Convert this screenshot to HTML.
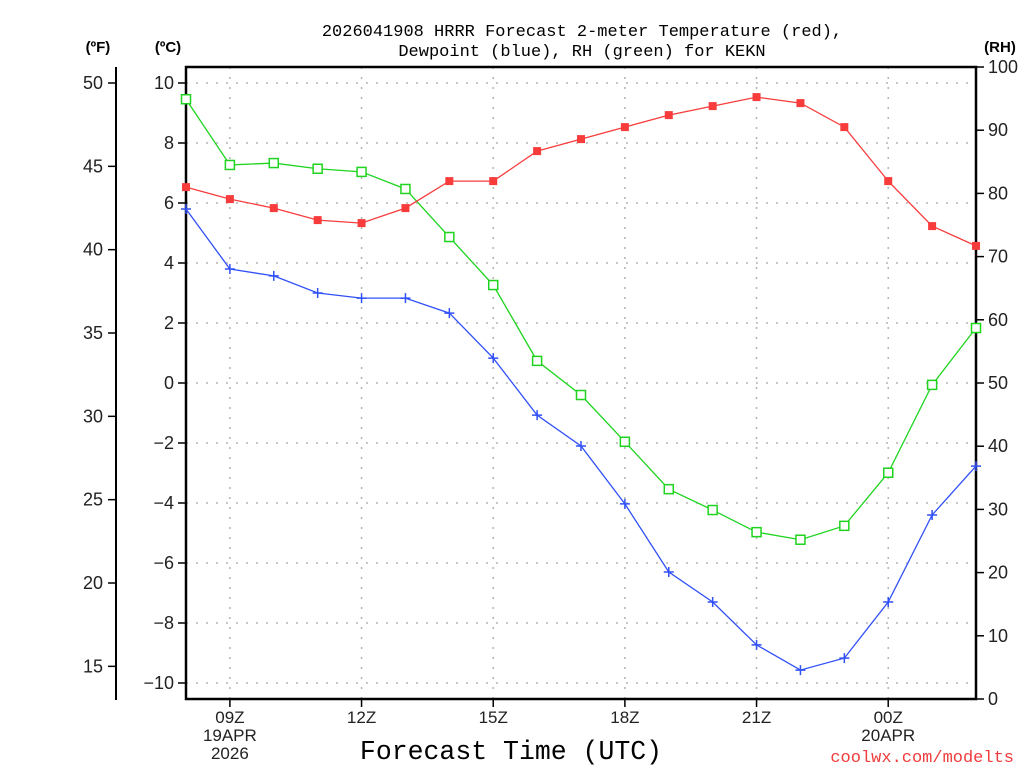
<!DOCTYPE html>
<html><head><meta charset="utf-8"><style>
body{margin:0;background:#fff;}
svg text{font-family:"Liberation Sans","DejaVu Sans",sans-serif;}
svg text.mono{font-family:"Liberation Mono","DejaVu Sans Mono",monospace;}
</style></head><body>
<svg id="chart" width="1024" height="768" viewBox="0 0 1024 768" xmlns="http://www.w3.org/2000/svg">
<g id="grid"></g>
<g id="axes"></g>
<g id="series"></g>
<text class="mono" x="582" y="36" text-anchor="middle" font-size="17" fill="#000">2026041908 HRRR Forecast 2-meter Temperature (red),</text>
<text class="mono" x="582" y="56" text-anchor="middle" font-size="17" fill="#000">Dewpoint (blue), RH (green) for KEKN</text>
<text x="98" y="52" text-anchor="middle" font-size="15" font-weight="bold">(ºF)</text>
<text x="168" y="52" text-anchor="middle" font-size="15" font-weight="bold">(ºC)</text>
<text x="1000" y="52" text-anchor="middle" font-size="15" font-weight="bold">(RH)</text>
<text class="mono" x="511" y="759" text-anchor="middle" font-size="26.5">Forecast Time (UTC)</text>
<text class="mono" x="1014" y="762" text-anchor="end" font-size="17" fill="#f03c3c">coolwx.com/modelts</text>
</svg>
<script>
const hours = [8,9,10,11,12,13,14,15,16,17,18,19,20,21,22,23,24,25,26];
const tempC = [6.53,6.13,5.83,5.43,5.33,5.83,6.73,6.73,7.73,8.13,8.53,8.93,9.23,9.53,9.33,8.53,6.73,5.23,4.57];
const dewC = [5.8,3.8,3.57,3.0,2.83,2.83,2.33,0.83,-1.07,-2.1,-4.03,-6.3,-7.3,-8.73,-9.57,-9.17,-7.3,-4.4,-2.77];
const rh = [94.9,84.5,84.8,83.9,83.4,80.7,73.1,65.5,53.5,48.1,40.7,33.2,29.9,26.4,25.2,27.4,35.8,49.7,58.7];
const cTicks = [-10,-8,-6,-4,-2,0,2,4,6,8,10];
const fTicks = [15,20,25,30,35,40,45,50];
const rhTicks = [0,10,20,30,40,50,60,70,80,90,100];
const xTicks = [9,12,15,18,21,24];
const xLabels = [["09Z","19APR","2026"],["12Z"],["15Z"],["18Z"],["21Z"],["00Z","20APR"]];

const L=186,R=976,T=67,B=699;
const x=h=>L+(h-8)*(R-L)/18;
const yC=c=>383-c*30;
const yF=f=>yC((f-32)/1.8);
const yRH=v=>B-v*(B-T)/100;
const NS="http://www.w3.org/2000/svg";
function mk(parent,tag,attrs){const e=document.createElementNS(NS,tag);for(const k in attrs)e.setAttribute(k,attrs[k]);document.getElementById(parent).appendChild(e);return e;}

cTicks.forEach(c=>{
  const g=mk('grid','line',{x1:L,x2:R,y1:yC(c),y2:yC(c),stroke:'#b4b4b4','stroke-dasharray':'2,8','stroke-width':1.5});
  
  
  const t=mk('axes','line',{x1:L-8,x2:L,y1:yC(c),y2:yC(c),stroke:'#000','stroke-width':1.5});
  
  
  const tx=mk('axes','text',{x:L-12,y:yC(c)+6,'text-anchor':'end','font-size':18,fill:'#222'});
  tx.textContent=(c<0?'\u2212'+(-c):c);
  
  
});
xTicks.forEach((h,i)=>{
  const g=mk('grid','line',{x1:x(h),x2:x(h),y1:T,y2:B,stroke:'#b4b4b4','stroke-dasharray':'2,8','stroke-width':1.5});
  
  
  const t=mk('axes','line',{x1:x(h),x2:x(h),y1:B,y2:B+8,stroke:'#000','stroke-width':1.5});
  
  
  xLabels[i].forEach((s,j)=>{
    const tx=mk('axes','text',{x:x(h),y:B+24+j*18,'text-anchor':'middle','font-size':17,fill:'#222'});
    tx.textContent=s;
    
    
  });
});
fTicks.forEach(f=>{
  const t=mk('axes','line',{x1:108,x2:116,y1:yF(f),y2:yF(f),stroke:'#000','stroke-width':1.5});
  
  
  const tx=mk('axes','text',{x:103,y:yF(f)+6,'text-anchor':'end','font-size':18,fill:'#222'});
  tx.textContent=f;
  
  
});
rhTicks.forEach(v=>{
  const t=mk('axes','line',{x1:R,x2:R+8,y1:yRH(v),y2:yRH(v),stroke:'#000','stroke-width':1.5});
  
  
  const tx=mk('axes','text',{x:R+12,y:yRH(v)+6,'text-anchor':'start','font-size':18,fill:'#222'});
  tx.textContent=v;
  
  
});
const fr=mk('axes','rect',{x:L,y:T,width:R-L,height:B-T,fill:'none',stroke:'#000','stroke-width':2.5});


const fa=mk('axes','line',{x1:116,x2:116,y1:T,y2:B+1,stroke:'#000','stroke-width':2});



function series(vals,yf,color,name,marker){
  const pts=vals.map((v,i)=>x(hours[i])+','+yf(v)).join(' ');
  const pl=mk('series','polyline',{points:pts,fill:'none',stroke:color,'stroke-width':1.3});
  
  
  vals.forEach((v,i)=>{
    const cx=x(hours[i]),cy=yf(v);let m;
    if(marker==='fill'){m=mk('series','rect',{x:cx-4,y:cy-4,width:8,height:8,fill:color});}
    else if(marker==='open'){m=mk('series','rect',{x:cx-4.5,y:cy-4.5,width:9,height:9,fill:'#fff',stroke:color,'stroke-width':1.5});}
    else{m=mk('series','path',{d:`M${cx-5},${cy}H${cx+5}M${cx},${cy-5}V${cy+5}`,stroke:color,'stroke-width':1.5});}
    
    
  });
}
series(rh,yRH,'#1ed41e','rh','open');
series(dewC,yC,'#3050f8','dewpoint','plus');
series(tempC,yC,'#f83c3c','temperature','fill');
</script>
</body></html>
